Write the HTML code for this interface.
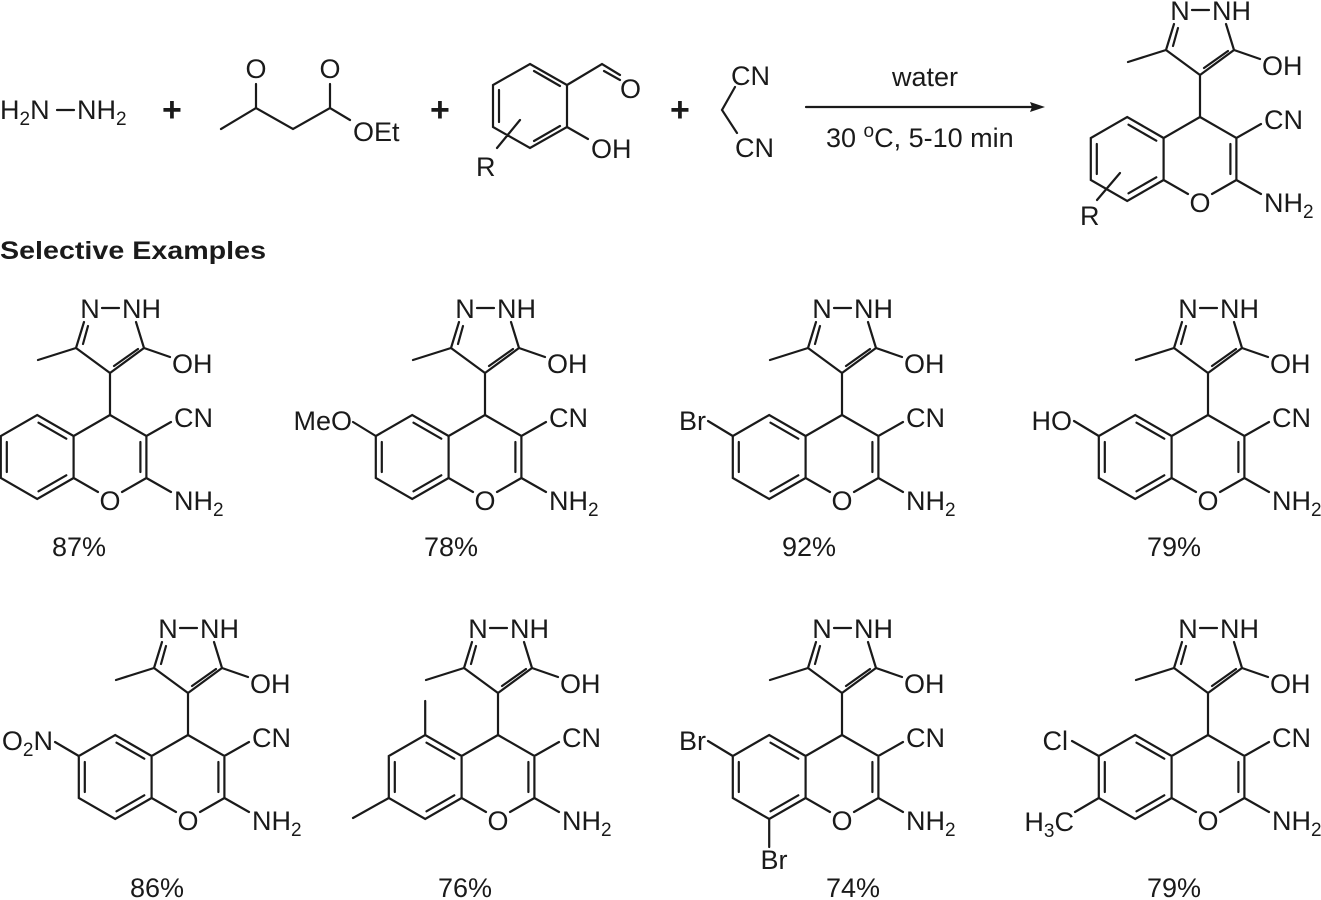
<!DOCTYPE html>
<html><head><meta charset="utf-8"><style>
html,body{margin:0;padding:0;background:#fff;}
svg{display:block;font-family:"Liberation Sans",Arial,sans-serif;font-size:27px;fill:#1a1a1a;}
.b{stroke:#1a1a1a;stroke-width:2.2;fill:none;stroke-linecap:round;}
.p{font-size:34px;font-weight:bold;}
.s{font-size:19px;}
</style></head><body>
<svg width="1321" height="900" viewBox="0 0 1321 900" xmlns="http://www.w3.org/2000/svg">
<defs>
<g id="core" class="b">
  <path d="M0,0 L0,-42 M0,-42 L34,-67 M0,-42 L-34,-67 M-34,-67 L-26,-93 M-27,-71 L-22,-89 M34,-67 L26,-93 M-8,-107 L9,-107 M4,-49 L28,-66 M-34,-67 L-72,-55 M34,-67 L60,-58"/>
  <path d="M0,0 L36.4,21 L61,7 M36.4,21 L36.4,63 M30.4,27 L30.4,57 M36.4,63 L61,77 M36.4,63 L12,77 M-12,77 L-36.4,63 L-36.4,21 L0,0 M-36.4,21 L-72.8,0 L-109.2,21 L-109.2,63 L-72.8,84 L-36.4,63 M-43.7,23.7 L-71.5,7.7 M-103.2,27 L-103.2,57 M-71.5,76.3 L-43.7,60.3"/>
</g>
</defs>

<!-- Reactants -->
<text x="0" y="119">H<tspan class="s" dy="6">2</tspan><tspan dy="-6">N</tspan></text>
<line class="b" x1="57" y1="110" x2="74" y2="110"/>
<text x="77" y="119">NH<tspan class="s" dy="6">2</tspan></text>
<text x="162" y="121" class="p">+</text>

<path class="b" d="M221,129 L256,108 L293,129 L330,108 L350,120 M256,108 L256,84 M330,108 L330,84"/>
<text x="256" y="78" text-anchor="middle">O</text>
<text x="330" y="78" text-anchor="middle">O</text>
<text x="353" y="141">OEt</text>
<text x="430" y="121" class="p">+</text>

<path class="b" d="M530,64 L567,85 L567,127 L530,148 L493,127 L493,85 Z M534,71 L560,86 M499,90 L499,122 M534,141 L560,126 M567,85 L602,64 L620,75 M604,71 L620,80 M567,127 L588,139 M497,148 L520,120"/>
<text x="620" y="98">O</text>
<text x="591" y="158">OH</text>
<text x="476" y="176">R</text>
<text x="670" y="121" class="p">+</text>
<path class="b" d="M735,87 L722,110 L737,133"/>
<text x="731" y="85">CN</text>
<text x="735" y="157">CN</text>

<!-- Arrow -->
<line class="b" x1="806" y1="107" x2="1035" y2="107"/>
<path d="M1045,107 L1030,102 L1032,107 L1030,112 Z" fill="#1a1a1a"/>
<text x="925" y="86" text-anchor="middle">water</text>
<text x="826" y="147">30 <tspan class="s" dy="-10">o</tspan><tspan dy="10">C, 5-10 min</tspan></text>

<!-- Product -->
<g transform="translate(1200,117)">
<use href="#core"/>
<text x="-20" y="-97" text-anchor="middle">N</text><text x="12" y="-97">NH</text>
<text x="62" y="-42">OH</text><text x="64" y="12">CN</text>
<text x="0" y="95" text-anchor="middle">O</text>
<text x="64" y="95">NH<tspan class="s" dy="6">2</tspan></text>
<path class="b" d="M-103,83 L-80,56"/>
<text x="-120" y="108">R</text>
</g>

<text x="0" y="259" font-weight="bold" font-size="25" textLength="266" lengthAdjust="spacingAndGlyphs">Selective Examples</text>

<!-- Row 1 -->
<g transform="translate(110,415)">
<use href="#core"/>
<text x="-20" y="-97" text-anchor="middle">N</text><text x="12" y="-97">NH</text>
<text x="62" y="-42">OH</text><text x="64" y="12">CN</text>
<text x="0" y="95" text-anchor="middle">O</text>
<text x="64" y="95">NH<tspan class="s" dy="6">2</tspan></text>
<text x="-31" y="141" text-anchor="middle">87%</text>
</g>
<g transform="translate(485,415)">
<use href="#core"/>
<text x="-20" y="-97" text-anchor="middle">N</text><text x="12" y="-97">NH</text>
<text x="62" y="-42">OH</text><text x="64" y="12">CN</text>
<text x="0" y="95" text-anchor="middle">O</text>
<text x="64" y="95">NH<tspan class="s" dy="6">2</tspan></text>
<path class="b" d="M-109.2,21 L-132,7"/>
<text x="-133" y="15" text-anchor="end">MeO</text>
<text x="-34" y="141" text-anchor="middle">78%</text>
</g>
<g transform="translate(842,415)">
<use href="#core"/>
<text x="-20" y="-97" text-anchor="middle">N</text><text x="12" y="-97">NH</text>
<text x="62" y="-42">OH</text><text x="64" y="12">CN</text>
<text x="0" y="95" text-anchor="middle">O</text>
<text x="64" y="95">NH<tspan class="s" dy="6">2</tspan></text>
<path class="b" d="M-109.2,21 L-134,6"/>
<text x="-136" y="15" text-anchor="end">Br</text>
<text x="-33" y="141" text-anchor="middle">92%</text>
</g>
<g transform="translate(1208,415)">
<use href="#core"/>
<text x="-20" y="-97" text-anchor="middle">N</text><text x="12" y="-97">NH</text>
<text x="62" y="-42">OH</text><text x="64" y="12">CN</text>
<text x="0" y="95" text-anchor="middle">O</text>
<text x="64" y="95">NH<tspan class="s" dy="6">2</tspan></text>
<path class="b" d="M-109.2,21 L-134,6"/>
<text x="-136" y="15" text-anchor="end">HO</text>
<text x="-34" y="141" text-anchor="middle">79%</text>
</g>

<!-- Row 2 -->
<g transform="translate(188,735)">
<use href="#core"/>
<text x="-20" y="-97" text-anchor="middle">N</text><text x="12" y="-97">NH</text>
<text x="62" y="-42">OH</text><text x="64" y="12">CN</text>
<text x="0" y="95" text-anchor="middle">O</text>
<text x="64" y="95">NH<tspan class="s" dy="6">2</tspan></text>
<path class="b" d="M-109.2,21 L-133,7"/>
<text x="-135" y="15" text-anchor="end">O<tspan class="s" dy="6">2</tspan><tspan dy="-6">N</tspan></text>
<text x="-31" y="162" text-anchor="middle">86%</text>
</g>
<g transform="translate(498,735)">
<use href="#core"/>
<text x="-20" y="-97" text-anchor="middle">N</text><text x="12" y="-97">NH</text>
<text x="62" y="-42">OH</text><text x="64" y="12">CN</text>
<text x="0" y="95" text-anchor="middle">O</text>
<text x="64" y="95">NH<tspan class="s" dy="6">2</tspan></text>
<path class="b" d="M-72.8,0 L-72.8,-34 M-109.2,63 L-145,83"/>
<text x="-33" y="162" text-anchor="middle">76%</text>
</g>
<g transform="translate(842,735)">
<use href="#core"/>
<text x="-20" y="-97" text-anchor="middle">N</text><text x="12" y="-97">NH</text>
<text x="62" y="-42">OH</text><text x="64" y="12">CN</text>
<text x="0" y="95" text-anchor="middle">O</text>
<text x="64" y="95">NH<tspan class="s" dy="6">2</tspan></text>
<path class="b" d="M-109.2,21 L-134,6 M-72.8,84 L-72.8,112"/>
<text x="-136" y="15" text-anchor="end">Br</text>
<text x="-68" y="134" text-anchor="middle">Br</text>
<text x="11" y="162" text-anchor="middle">74%</text>
</g>
<g transform="translate(1208,735)">
<use href="#core"/>
<text x="-20" y="-97" text-anchor="middle">N</text><text x="12" y="-97">NH</text>
<text x="62" y="-42">OH</text><text x="64" y="12">CN</text>
<text x="0" y="95" text-anchor="middle">O</text>
<text x="64" y="95">NH<tspan class="s" dy="6">2</tspan></text>
<path class="b" d="M-109.2,21 L-136,6 M-109.2,63 L-133,77"/>
<text x="-140" y="15" text-anchor="end">Cl</text>
<text x="-134" y="96" text-anchor="end">H<tspan class="s" dy="6">3</tspan><tspan dy="-6">C</tspan></text>
<text x="-34" y="162" text-anchor="middle">79%</text>
</g>
</svg>
</body></html>
